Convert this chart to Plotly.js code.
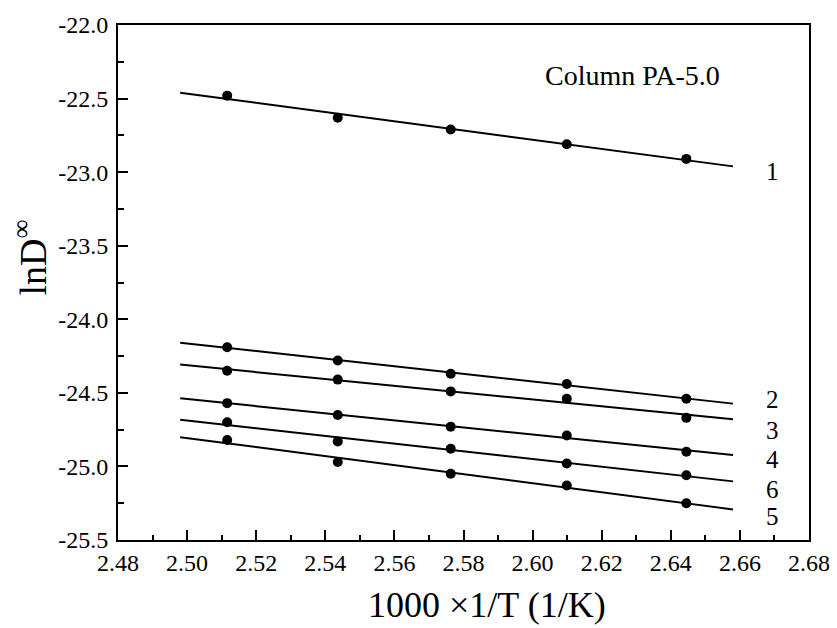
<!DOCTYPE html>
<html>
<head>
<meta charset="utf-8">
<script src="https://cdn.plot.ly/plotly-3.0.1.min.js"></script>
<style>html,body{margin:0;padding:0;background:#fff;}#chart{width:837px;height:628px;}</style>
</head>
<body>
<div id="chart"></div>
<script>
// 1000/T values (1/K)
const invT = [2.5116, 2.5436, 2.5763, 2.6099, 2.6445];
// lnD∞ values per solute (labels as in figure)
const lnD1 = [-22.48, -22.63, -22.71, -22.81, -22.91];
const lnD2 = [-24.19, -24.28, -24.37, -24.44, -24.54];
const lnD3 = [-24.35, -24.41, -24.49, -24.54, -24.67];
const lnD4 = [-24.57, -24.65, -24.73, -24.79, -24.90];
const lnD6 = [-24.70, -24.83, -24.88, -24.98, -25.06];
const lnD5 = [-24.82, -24.97, -25.05, -25.13, -25.25];
const seriesNames = ['1', '2', '3', '4', '6', '5'];
const fitRange = [2.498, 2.658];
const xTickVals = [2.48, 2.50, 2.52, 2.54, 2.56, 2.58, 2.60, 2.62, 2.64, 2.66, 2.68];
const yTickVals = [-22.0, -22.5, -23.0, -23.5, -24.0, -24.5, -25.0, -25.5];
const xTickText = xTickVals.map(v => v.toFixed(2));
const yTickText = yTickVals.map(v => v.toFixed(1));

const allSeries = [lnD1, lnD2, lnD3, lnD4, lnD6, lnD5];

function linfit(x, y) {
  const n = x.length;
  const mx = x.reduce((a, b) => a + b, 0) / n;
  const my = y.reduce((a, b) => a + b, 0) / n;
  let sxy = 0, sxx = 0;
  for (let i = 0; i < n; i++) { sxy += (x[i] - mx) * (y[i] - my); sxx += (x[i] - mx) ** 2; }
  const b = sxy / sxx;
  return { a: my - b * mx, b: b };
}

const traces = [];
allSeries.forEach((ys, i) => {
  const f = linfit(invT, ys);
  traces.push({
    x: fitRange, y: fitRange.map(v => f.a + f.b * v),
    mode: 'lines', line: { color: '#000', width: 2 },
    showlegend: false, hoverinfo: 'skip', name: 'fit ' + seriesNames[i]
  });
  traces.push({
    x: invT, y: ys, mode: 'markers',
    marker: { color: '#000', size: 10, symbol: 'circle' },
    showlegend: false, name: seriesNames[i]
  });
});

const FAM = 'Liberation Serif';
function F(size) { return { family: FAM, size: size, color: '#000' }; }

const labelPos = [
  [2.6693, -22.997], [2.6693, -24.548], [2.6693, -24.759],
  [2.6693, -24.956], [2.6693, -25.160], [2.6693, -25.342]
];
const annotations = seriesNames.map((s, i) => ({
  x: labelPos[i][0], y: labelPos[i][1], xref: 'x', yref: 'y', text: s,
  showarrow: false, xanchor: 'center', yanchor: 'middle', font: F(25)
}));
annotations.push({
  x: 2.629, y: -22.34, xref: 'x', yref: 'y', text: 'Column PA-5.0',
  showarrow: false, xanchor: 'center', yanchor: 'middle', font: F(28)
});
annotations.push({
  x: 0.5347, y: -0.126, xref: 'paper', yref: 'paper', text: '1000 ×1/T (1/K)',
  showarrow: false, xanchor: 'center', yanchor: 'middle', font: F(36)
});
annotations.push({
  x: -0.1274, y: 0.5485, xref: 'paper', yref: 'paper', text: 'lnD<sup>∞</sup>',
  textangle: -90, showarrow: false, xanchor: 'center', yanchor: 'middle', font: F(38)
});

const layout = {
  width: 837, height: 628,
  margin: { l: 118, r: 28, t: 25, b: 88, pad: 0 },
  paper_bgcolor: '#fff', plot_bgcolor: '#fff',
  font: F(24),
  showlegend: false,
  xaxis: {
    range: [2.48, 2.68], tickmode: 'array', tickvals: xTickVals, ticktext: xTickText,
    ticks: 'inside', ticklen: 10, tickwidth: 2, tickcolor: '#000',
    minor: { ticks: 'inside', ticklen: 5, tickwidth: 2, tickcolor: '#000', dtick: 0.01, tick0: 2.48 },
    showline: true, linewidth: 2, linecolor: '#000', mirror: true,
    showgrid: false, zeroline: false,
    tickfont: F(24)
  },
  yaxis: {
    range: [-25.5, -22.0], tickmode: 'array', tickvals: yTickVals, ticktext: yTickText,
    ticks: 'inside', ticklen: 10, tickwidth: 2, tickcolor: '#000',
    minor: { ticks: 'inside', ticklen: 6, tickwidth: 2, tickcolor: '#000', dtick: 0.25, tick0: -25.5 },
    showline: true, linewidth: 2, linecolor: '#000', mirror: true,
    showgrid: false, zeroline: false, ticklabelstandoff: 3,
    tickfont: F(24)
  },
  annotations: annotations
};

Plotly.newPlot('chart', traces, layout, { displayModeBar: false });
</script>
</body>
</html>
